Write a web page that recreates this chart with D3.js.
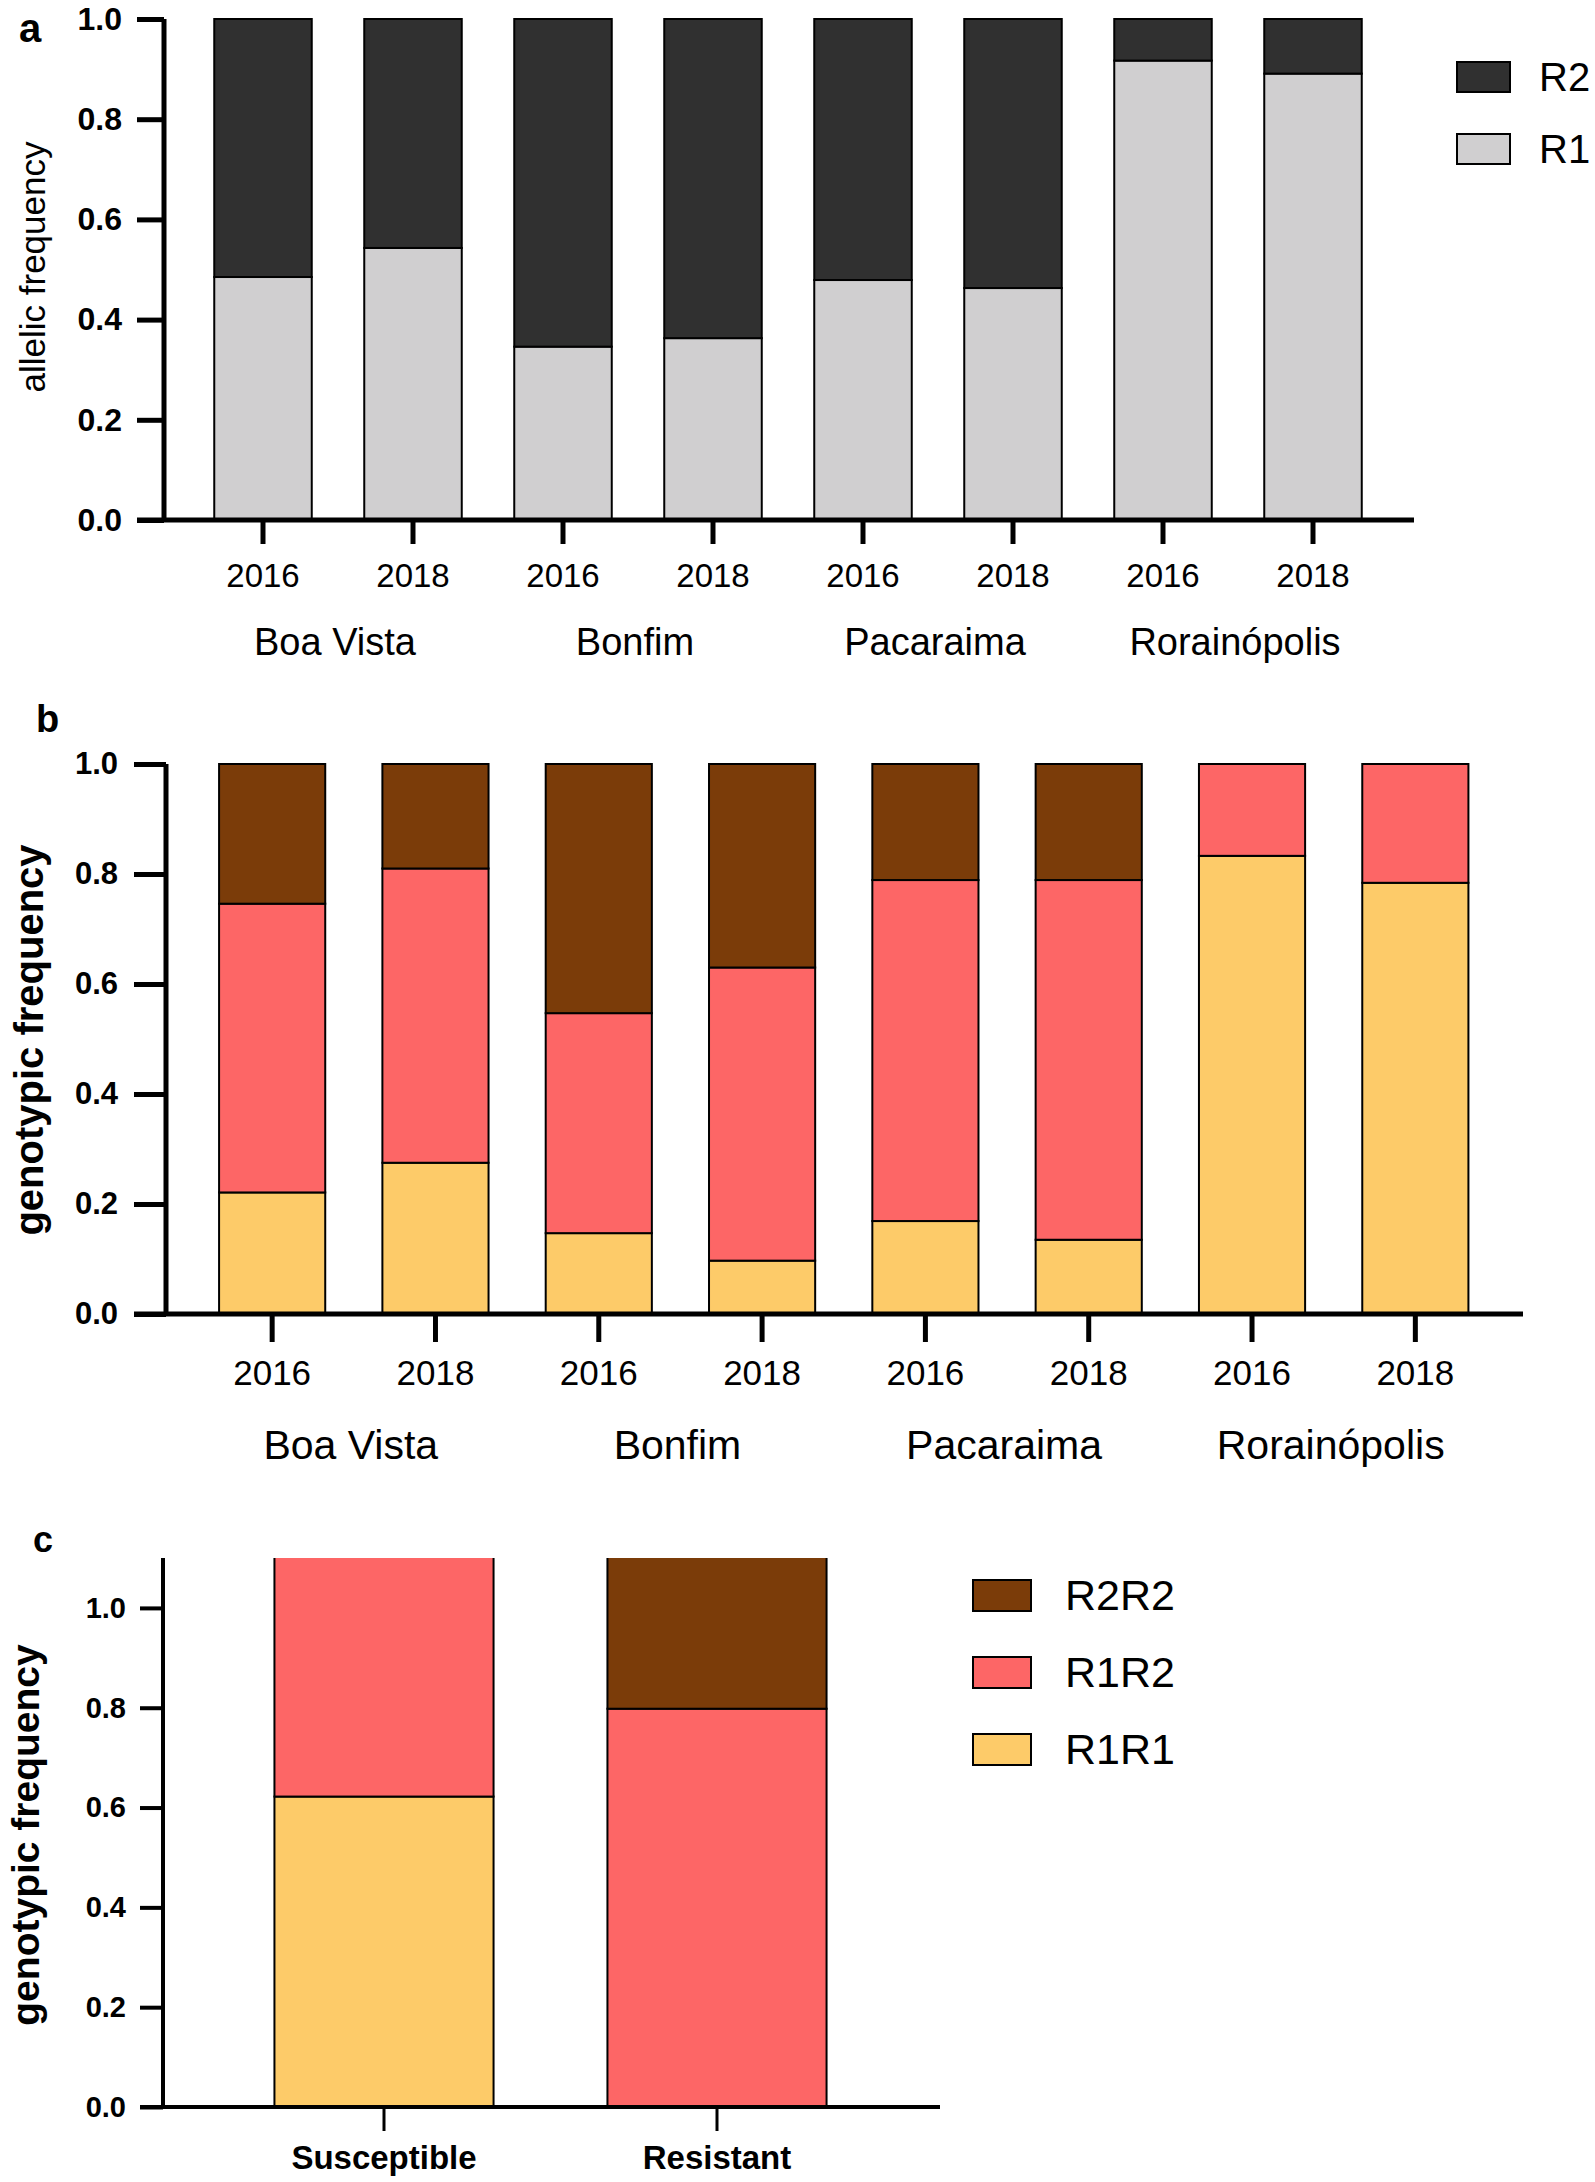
<!DOCTYPE html>
<html><head><meta charset="utf-8">
<script src="https://cdn.jsdelivr.net/npm/d3@7"></script>
<style>body{margin:0;background:#fff}svg{display:block}text{font-family:"Liberation Sans",Arial,Helvetica,sans-serif}</style>
</head><body><svg id="c" width="1595" height="2182"></svg>
<script>
const sites = ["Boa Vista","Bonfim","Pacaraima","Rorainópolis"];
const years = ["2016","2018"];
const alleleR1 = [0.485,0.543,0.346,0.363,0.479,0.463,0.917,0.891];
const alleleR2 = [0.515,0.457,0.654,0.637,0.521,0.537,0.083,0.109];
const genoR1R1 = [0.221,0.275,0.147,0.097,0.169,0.135,0.833,0.784];
const genoR1R2 = [0.525,0.535,0.400,0.533,0.620,0.654,0.167,0.216];
const genoR2R2 = [0.254,0.190,0.453,0.370,0.211,0.211,0,0];
const phenotypes = ["Susceptible","Resistant"];
const phenoR1R1 = [0.622,0];
const phenoR1R2 = [0.5,0.798];
const phenoR2R2 = [0,0.32];
const yTicks = [0,0.2,0.4,0.6,0.8,1.0];

const colA = {R1:"#d0cfd0", R2:"#303030"};
const colG = {R1R1:"#fdcb69", R1R2:"#fd6666", R2R2:"#7b3c09"};

const svg = d3.select("#c");
svg.append("rect").attr("width",1595).attr("height",2182).attr("fill","#fff");

const cats = [];
sites.forEach(s=>years.forEach(y=>cats.push(s+"|"+y)));

function panel(opt){
  const g = svg.append("g");
  const y = d3.scaleLinear().domain(opt.ydom).range([opt.y0, opt.y1]);
  const x = d3.scaleBand().domain(opt.cats).range(opt.xr).paddingInner(opt.pi).paddingOuter(opt.pi/2);
  const rows = opt.cats.map((c,i)=>{const o={cat:c}; opt.keys.forEach((k,j)=>o[k]=opt.vals[j][i]); return o;});
  const stack = d3.stack().keys(opt.keys)(rows);
  let clipId=null;
  if(opt.clip){
    clipId="clip"+Math.random().toString(36).slice(2);
    g.append("clipPath").attr("id",clipId).append("rect")
      .attr("x",0).attr("y",y(opt.ydom[1])).attr("width",1595).attr("height",opt.y0-y(opt.ydom[1])+10);
  }
  const bars = g.append("g"); if(clipId) bars.attr("clip-path",`url(#${clipId})`);
  stack.forEach(layer=>{
    bars.selectAll(null).data(layer.filter(d=>d[1]-d[0]>0)).enter().append("rect")
      .attr("x",d=>x(d.data.cat)).attr("width",x.bandwidth())
      .attr("y",d=>y(d[1])).attr("height",d=>y(d[0])-y(d[1]))
      .attr("fill",opt.colors[layer.key]).attr("stroke","#000").attr("stroke-width",2);
  });
  const ya = g.append("g").attr("transform",`translate(${opt.ax},0)`)
    .call(d3.axisLeft(y).tickValues(yTicks).tickFormat(d3.format(".1f")).tickSize(opt.tl).tickSizeOuter(0).tickPadding(opt.tp));
  ya.select(".domain").attr("stroke","#000").attr("stroke-width",opt.lw).attr("d",`M0,${opt.y0}V${y(opt.ydom[1])}`);
  ya.selectAll(".tick line").attr("stroke","#000").attr("stroke-width",opt.lw);
  ya.selectAll(".tick text").attr("font-size",opt.yfs).attr("font-weight","bold").attr("fill","#000")
    .style("font-family",'"Liberation Sans",Arial,sans-serif');
  const xa = g.append("g").attr("transform",`translate(0,${opt.y0})`)
    .call(d3.axisBottom(x).tickSize(opt.xtl).tickSizeOuter(0).tickPadding(opt.xtp).tickFormat(opt.xfmt));
  xa.select(".domain").attr("stroke","#000").attr("stroke-width",opt.lw).attr("d",`M${opt.ax-opt.tl},0H${opt.xend}`);
  xa.selectAll(".tick line").attr("stroke","#000").attr("stroke-width",opt.xlw||opt.lw);
  xa.selectAll(".tick text").attr("font-size",opt.xfs).attr("font-weight",opt.xbold?"bold":"normal").attr("fill","#000")
    .style("font-family",'"Liberation Sans",Arial,sans-serif');
  return {g,x,y};
}

// Panel a
const pa = panel({cats, keys:["R1","R2"], vals:[alleleR1, alleleR2], colors:colA,
  ydom:[0,1], y0:520, y1:19, xr:[188,1388], pi:0.35, ax:164, tl:27, tp:15, lw:5, yfs:32,
  xtl:24, xtp:20, xfs:33, xend:1414, xfmt:d=>d.split("|")[1]});
sites.forEach((s,i)=>{
  const cx = (pa.x(s+"|2016")+pa.x(s+"|2018")+pa.x.bandwidth())/2 - 3;
  svg.append("text").attr("x",cx).attr("y",655).attr("text-anchor","middle").attr("font-size",38).text(s);
});
svg.append("text").attr("transform","translate(45,267) rotate(-90)").attr("text-anchor","middle")
  .attr("font-size",35).text("allelic frequency");
svg.append("text").attr("x",19).attr("y",42).attr("font-size",40).attr("font-weight","bold").text("a");
[["R2",62],["R1",134]].forEach(([k,yy])=>{
  svg.append("rect").attr("x",1457).attr("y",yy).attr("width",53).attr("height",30).attr("fill",colA[k]).attr("stroke","#000").attr("stroke-width",2);
  svg.append("text").attr("x",1539).attr("y",yy+29).attr("font-size",40).text(k);
});

// Panel b
const pb = panel({cats, keys:["R1R1","R1R2","R2R2"], vals:[genoR1R1, genoR1R2, genoR2R2], colors:colG,
  ydom:[0,1], y0:1314, y1:764, xr:[190.5,1497], pi:0.35, ax:166, tl:32, tp:16, lw:5, yfs:31,
  xtl:28, xtp:18, xfs:35, xend:1523, xfmt:d=>d.split("|")[1]});
sites.forEach((s,i)=>{
  const cx = (pb.x(s+"|2016")+pb.x(s+"|2018")+pb.x.bandwidth())/2 - 3;
  svg.append("text").attr("x",cx).attr("y",1459).attr("text-anchor","middle").attr("font-size",41).text(s);
});
svg.append("text").attr("transform","translate(43,1040) rotate(-90)").attr("text-anchor","middle")
  .attr("font-size",40).attr("font-weight","bold").text("genotypic frequency");
svg.append("text").attr("x",36).attr("y",732).attr("font-size",38).attr("font-weight","bold").text("b");

// Panel c
const pc = panel({cats:phenotypes, keys:["R1R1","R1R2","R2R2"], vals:[phenoR1R1, phenoR1R2, phenoR2R2], colors:colG,
  ydom:[0,1.1], y0:2107, y1:1558, xr:[217.5,883.5], pi:0.342, ax:163, tl:23, tp:14, lw:4, yfs:29,
  xtl:24, xtp:15, xfs:33, xbold:true, xend:940, xlw:3, clip:true, xfmt:d=>d});
svg.append("text").attr("transform","translate(39,1835) rotate(-90)").attr("text-anchor","middle")
  .attr("font-size",39).attr("font-weight","bold").text("genotypic frequency");
svg.append("text").attr("x",33).attr("y",1552).attr("font-size",36).attr("font-weight","bold").text("c");
[["R2R2",1580],["R1R2",1657],["R1R1",1734]].forEach(([k,yy])=>{
  svg.append("rect").attr("x",973).attr("y",yy).attr("width",58).attr("height",31).attr("fill",colG[k]).attr("stroke","#000").attr("stroke-width",2);
  svg.append("text").attr("x",1065).attr("y",yy+30).attr("font-size",43).text(k);
});
</script></body></html>
